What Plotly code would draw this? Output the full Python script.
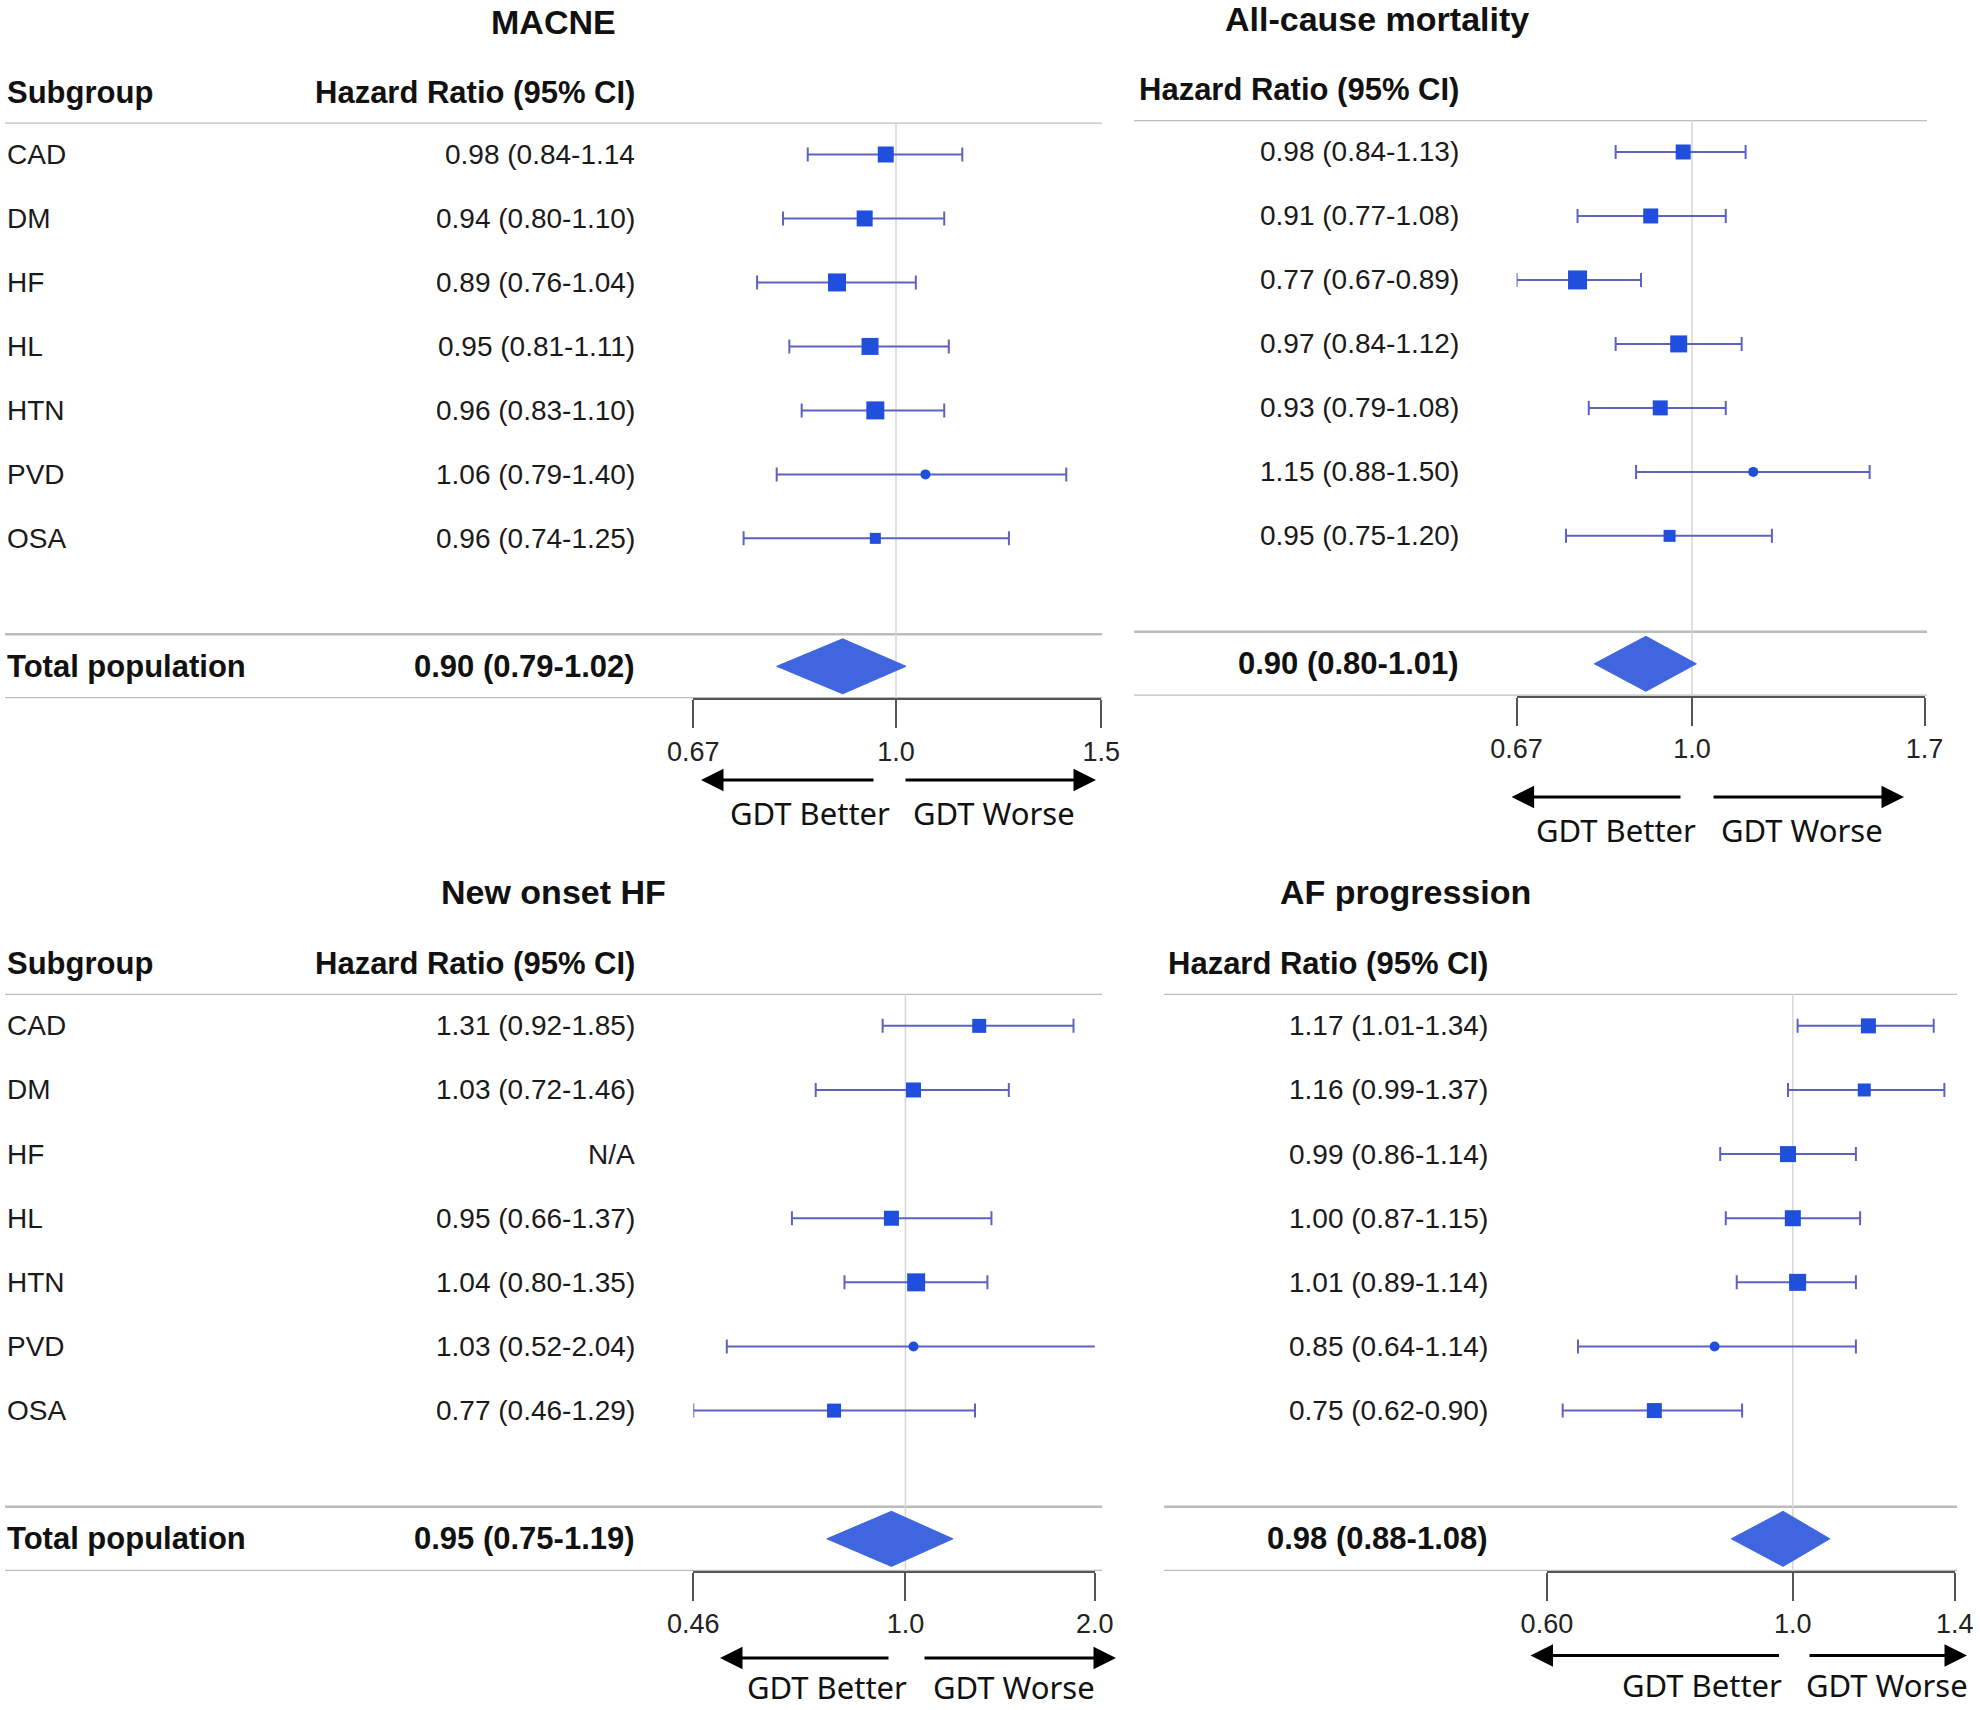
import math
import plotly.graph_objects as go

# ---------------- data ----------------
subgroups = ["CAD", "DM", "HF", "HL", "HTN", "PVD", "OSA"]

macne_hr = [0.98, 0.94, 0.89, 0.95, 0.96, 1.06, 0.96]
macne_lo = [0.84, 0.80, 0.76, 0.81, 0.83, 0.79, 0.74]
macne_hi = [1.14, 1.10, 1.04, 1.11, 1.10, 1.40, 1.25]
macne_text = ["0.98 (0.84-1.14", "0.94 (0.80-1.10)", "0.89 (0.76-1.04)", "0.95 (0.81-1.11)",
              "0.96 (0.83-1.10)", "1.06 (0.79-1.40)", "0.96 (0.74-1.25)"]
macne_total = [0.90, 0.79, 1.02]
macne_total_text = "0.90 (0.79-1.02)"
macne_ticks = [0.67, 1.0, 1.5]
macne_ticklabels = ["0.67", "1.0", "1.5"]

mort_hr = [0.98, 0.91, 0.77, 0.97, 0.93, 1.15, 0.95]
mort_lo = [0.84, 0.77, 0.67, 0.84, 0.79, 0.88, 0.75]
mort_hi = [1.13, 1.08, 0.89, 1.12, 1.08, 1.50, 1.20]
mort_text = ["0.98 (0.84-1.13)", "0.91 (0.77-1.08)", "0.77 (0.67-0.89)", "0.97 (0.84-1.12)",
             "0.93 (0.79-1.08)", "1.15 (0.88-1.50)", "0.95 (0.75-1.20)"]
mort_total = [0.90, 0.80, 1.01]
mort_total_text = "0.90 (0.80-1.01)"
mort_ticks = [0.67, 1.0, 1.7]
mort_ticklabels = ["0.67", "1.0", "1.7"]

hf_hr = [1.31, 1.03, None, 0.95, 1.04, 1.03, 0.77]
hf_lo = [0.92, 0.72, None, 0.66, 0.80, 0.52, 0.46]
hf_hi = [1.85, 1.46, None, 1.37, 1.35, 2.04, 1.29]
hf_text = ["1.31 (0.92-1.85)", "1.03 (0.72-1.46)", "N/A", "0.95 (0.66-1.37)",
           "1.04 (0.80-1.35)", "1.03 (0.52-2.04)", "0.77 (0.46-1.29)"]
hf_total = [0.95, 0.75, 1.19]
hf_total_text = "0.95 (0.75-1.19)"
hf_ticks = [0.46, 1.0, 2.0]
hf_ticklabels = ["0.46", "1.0", "2.0"]

af_hr = [1.17, 1.16, 0.99, 1.00, 1.01, 0.85, 0.75]
af_lo = [1.01, 0.99, 0.86, 0.87, 0.89, 0.64, 0.62]
af_hi = [1.34, 1.37, 1.14, 1.15, 1.14, 1.14, 0.90]
af_text = ["1.17 (1.01-1.34)", "1.16 (0.99-1.37)", "0.99 (0.86-1.14)", "1.00 (0.87-1.15)",
           "1.01 (0.89-1.14)", "0.85 (0.64-1.14)", "0.75 (0.62-0.90)"]
af_total = [0.98, 0.88, 1.08]
af_total_text = "0.98 (0.88-1.08)"
af_ticks = [0.60, 1.0, 1.4]
af_ticklabels = ["0.60", "1.0", "1.4"]

titles = ["MACNE", "All-cause mortality", "New onset HF", "AF progression"]

# ---------------- styles / geometry ----------------
W, H = 1980, 1710
FONT = "Liberation Sans, Arial, sans-serif"
FONT2 = "Noto Sans, Open Sans, sans-serif"
MARKER_C = "#1f4fdc"
ERR_C = "#5d62c2"
DIAMOND_C = "#3f66de"
TABLE_LINE_C = "#bcbcbc"
AXIS_C = "#555555"
REF_C = "#d6d6d6"

msizes = [
    [16, 16, 18, 17, 18, 10, 11],
    [15, 15, 19, 17, 15, 10, 12],
    [14, 15, 0, 15, 18, 10, 14],
    [15, 13, 16, 16, 17, 10, 15],
]

panels = [
    dict(hr=macne_hr, lo=macne_lo, hi=macne_hi, text=macne_text, total=macne_total,
         total_text=macne_total_text, ticks=macne_ticks, ticklabels=macne_ticklabels,
         ax_px=(693.3, 1101.2), y_px=(122.5, 698.3), line_px=(5, 1102), val_right=636.5,
         left_labels=True, title_cx=553, title_py=21.5, header_py=92,
         arrows=((875, 701), (904, 1096)), arrow_py=780, gdt_cx=(809.5, 993.8), gdt_py=813),
    dict(hr=mort_hr, lo=mort_lo, hi=mort_hi, text=mort_text, total=mort_total,
         total_text=mort_total_text, ticks=mort_ticks, ticklabels=mort_ticklabels,
         ax_px=(1516.6, 1924.5), y_px=(120, 695.8), line_px=(1134, 1927), val_right=1461,
         left_labels=False, title_cx=1376.5, title_py=19, header_py=90,
         arrows=((1682, 1511.6), (1712, 1904)), arrow_py=797, gdt_cx=(1616, 1802), gdt_py=830),
    dict(hr=hf_hr, lo=hf_lo, hi=hf_hi, text=hf_text, total=hf_total,
         total_text=hf_total_text, ticks=hf_ticks, ticklabels=hf_ticklabels,
         ax_px=(693.3, 1094.8), y_px=(993.8, 1570.9), line_px=(5, 1102), val_right=636.5,
         left_labels=True, title_cx=553, title_py=891.5, header_py=963.5,
         arrows=((890, 720), (923, 1116)), arrow_py=1658, gdt_cx=(827, 1014), gdt_py=1687),
    dict(hr=af_hr, lo=af_lo, hi=af_hi, text=af_text, total=af_total,
         total_text=af_total_text, ticks=af_ticks, ticklabels=af_ticklabels,
         ax_px=(1546.9, 1954.8), y_px=(993.8, 1570.9), line_px=(1164, 1957), val_right=1490,
         left_labels=False, title_cx=1405.5, title_py=891.5, header_py=963.5,
         arrows=((1780.5, 1530.5), (1808, 1967)), arrow_py=1655.5, gdt_cx=(1702, 1886.6), gdt_py=1685),
]

NROWS = 9.0  # row units between header line and axis line


def fx(px):
    return px / W


def fy(py):
    return 1 - py / H


fig = go.Figure()
annotations = []
shapes = []
layout_axes = {}

for k, p in enumerate(panels):
    n = "" if k == 0 else str(k + 1)
    xname, yname = "x" + n, "y" + n
    top_px, bot_px = p["y_px"]

    lo_t, hi_t = p["ticks"][0], p["ticks"][-1]
    layout_axes["xaxis" + n] = dict(
        type="log", range=[math.log10(lo_t), math.log10(hi_t)],
        domain=[fx(p["ax_px"][0]), fx(p["ax_px"][1])], anchor=yname, automargin=False,
        showgrid=False, zeroline=False, showline=True, linecolor=AXIS_C, linewidth=2,
        ticks="outside", ticklen=28, tickwidth=2, tickcolor=AXIS_C,
        tickmode="array", tickvals=p["ticks"], ticktext=p["ticklabels"],
        tickfont=dict(family=FONT, size=27, color="#222222"), fixedrange=True,
    )
    layout_axes["yaxis" + n] = dict(
        range=[NROWS, 0], domain=[fy(bot_px), fy(top_px)], anchor=xname, automargin=False,
        visible=False, fixedrange=True,
    )

    # reference line at HR = 1
    fig.add_trace(go.Scatter(x=[1, 1], y=[0, NROWS], mode="lines",
                             line=dict(color=REF_C, width=1.5),
                             xaxis=xname, yaxis=yname, hoverinfo="skip"))

    # subgroup estimates with CIs
    for i, (e, l, h) in enumerate(zip(p["hr"], p["lo"], p["hi"])):
        if e is None:
            continue
        sz = msizes[k][i]
        fig.add_trace(go.Scatter(
            x=[e], y=[i + 0.5], mode="markers", xaxis=xname, yaxis=yname,
            marker=dict(symbol="circle" if sz <= 10 else "square", size=sz, color=MARKER_C,
                        line=dict(width=0)),
            error_x=dict(type="data", symmetric=False, array=[h - e], arrayminus=[e - l],
                         color=ERR_C, thickness=2, width=7),
            cliponaxis=False, hoverinfo="skip"))

    # total population diamond
    te, tl, th = p["total"]
    dh = 0.43
    fig.add_trace(go.Scatter(
        x=[tl, te, th, te, tl], y=[8.5, 8.5 - dh, 8.5, 8.5 + dh, 8.5],
        mode="lines", fill="toself", fillcolor=DIAMOND_C,
        line=dict(color=DIAMOND_C, width=1), xaxis=xname, yaxis=yname, hoverinfo="skip"))

    # table lines
    for r in (0, 8, 9):
        shapes.append(dict(type="line", xref="paper", yref=yname,
                           x0=fx(p["line_px"][0]), x1=fx(p["line_px"][1]), y0=r, y1=r,
                           line=dict(color=TABLE_LINE_C, width=2.5), layer="below"))

    # title
    annotations.append(dict(text=titles[k], xref="paper", yref="paper", x=fx(p["title_cx"]),
                            y=fy(p["title_py"]), xanchor="center", yanchor="middle",
                            showarrow=False, font=dict(family=FONT, size=34, color="#111111",
                                                       weight="bold")))
    # headers
    annotations.append(dict(text="Hazard Ratio (95% CI)", xref="paper", yref="paper",
                            x=fx(p["val_right"]), y=fy(p["header_py"]), xanchor="right",
                            yanchor="middle", showarrow=False,
                            font=dict(family=FONT, size=31, color="#111111", weight="bold")))
    if p["left_labels"]:
        annotations.append(dict(text="Subgroup", xref="paper", yref="paper", x=fx(5),
                                y=fy(p["header_py"]), xanchor="left", yanchor="middle",
                                showarrow=False,
                                font=dict(family=FONT, size=31, color="#111111", weight="bold")))
        for i, s in enumerate(subgroups):
            annotations.append(dict(text=s, xref="paper", yref=yname, x=fx(5), y=i + 0.5,
                                    xanchor="left", yanchor="middle", showarrow=False,
                                    font=dict(family=FONT, size=28, color="#1a1a1a")))
        annotations.append(dict(text="Total population", xref="paper", yref=yname, x=fx(5),
                                y=8.5, xanchor="left", yanchor="middle", showarrow=False,
                                font=dict(family=FONT, size=31, color="#111111", weight="bold")))
    for i, t in enumerate(p["text"]):
        annotations.append(dict(text=t, xref="paper", yref=yname, x=fx(p["val_right"]),
                                y=i + 0.5, xanchor="right", yanchor="middle", showarrow=False,
                                font=dict(family=FONT, size=28, color="#1a1a1a")))
    annotations.append(dict(text=p["total_text"], xref="paper", yref=yname,
                            x=fx(p["val_right"]), y=8.5, xanchor="right", yanchor="middle",
                            showarrow=False,
                            font=dict(family=FONT, size=31, color="#111111", weight="bold")))

    # direction arrows
    for tail, head in p["arrows"]:
        annotations.append(dict(text="", xref="paper", yref="paper", x=fx(head),
                                y=fy(p["arrow_py"]), ax=tail - head, ay=0, axref="pixel",
                                ayref="pixel", showarrow=True, arrowhead=2, arrowsize=1.5,
                                arrowwidth=3, arrowcolor="#000000", standoff=0, startstandoff=0))
    for cx, lab in zip(p["gdt_cx"], ["GDT Better", "GDT Worse"]):
        annotations.append(dict(text=lab, xref="paper", yref="paper", x=fx(cx),
                                y=fy(p["gdt_py"]), xanchor="center", yanchor="middle",
                                showarrow=False,
                                font=dict(family=FONT2, size=31, color="#111111")))

fig.update_layout(
    width=W, height=H, margin=dict(l=0, r=0, t=0, b=0, pad=0), autosize=False,
    paper_bgcolor="white", plot_bgcolor="white", showlegend=False, hovermode=False,
    annotations=annotations, shapes=shapes, **layout_axes,
)

fig.write_html(
    "out.html",
    config={"displayModeBar": False},
    post_script="document.body.style.margin='0px';document.body.style.overflow='hidden';",
)
